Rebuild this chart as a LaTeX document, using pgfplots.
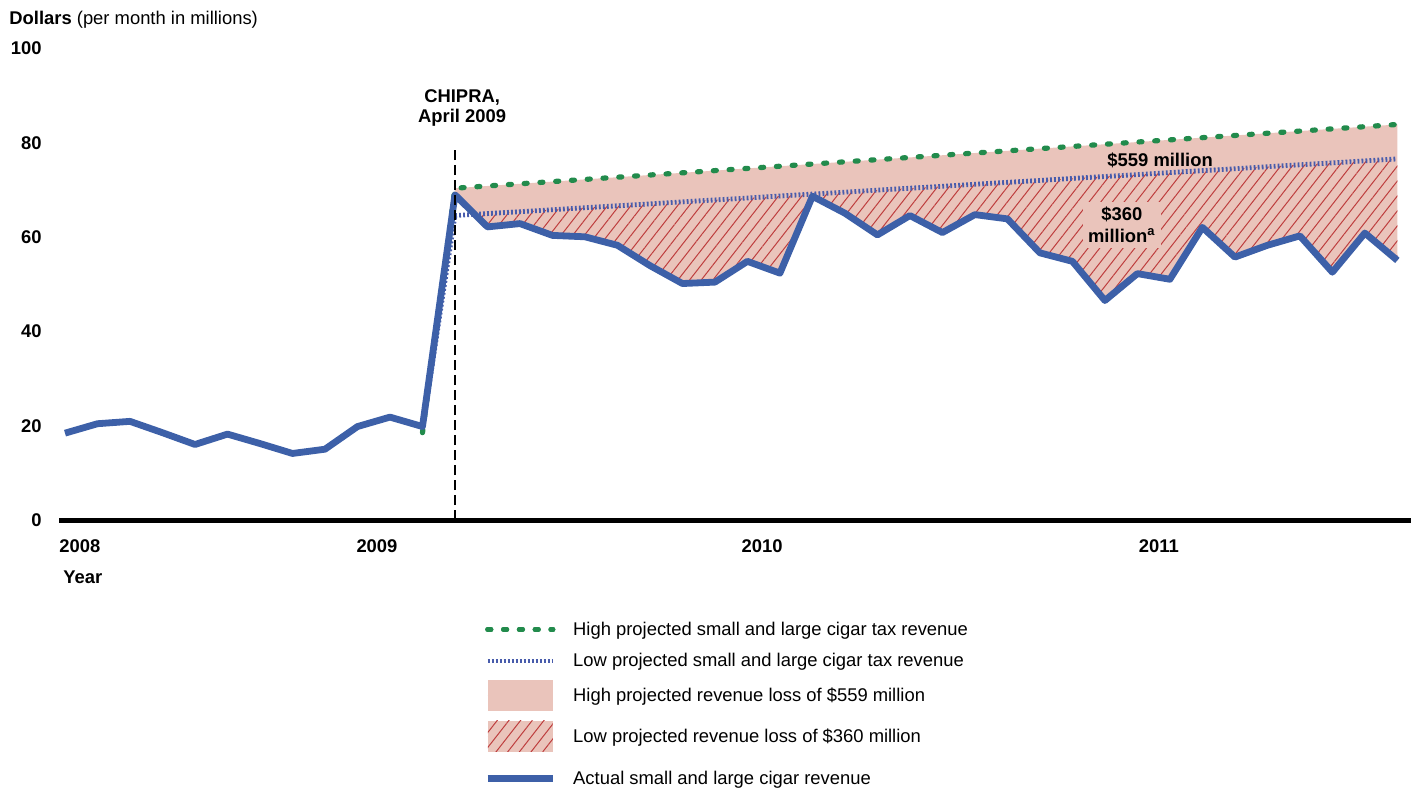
\documentclass[border=0pt]{standalone}
\usepackage{pgfplots}
\pgfplotsset{compat=1.18}
\usepackage{pgfplotstable}
\usepgfplotslibrary{fillbetween}
\usetikzlibrary{patterns.meta}
\usepackage{fontspec}
\setmainfont{Liberation Sans}
\definecolor{actual}{RGB}{61,96,168}
\definecolor{hig}{RGB}{34,139,76}
\definecolor{low}{RGB}{72,92,172}
\definecolor{lossfill}{RGB}{234,196,187}
\definecolor{hatch}{RGB}{190,62,62}
\newcommand{\fs}{\fontsize{9.2}{11}\selectfont}

\pgfplotstableread{
i v
0 18.4
1 20.4
2 20.9
3 18.5
4 16.0
5 18.2
6 16.2
7 14.1
8 15.0
9 19.8
10 21.8
11 19.8
12 68.9
13 62.1
14 62.8
15 60.3
16 60.0
17 58.2
18 53.9
19 50.1
20 50.4
21 54.8
22 52.3
23 68.6
24 65.0
25 60.4
26 64.5
27 60.9
28 64.7
29 63.8
30 56.6
31 54.8
32 46.5
33 52.2
34 51.0
35 62.0
36 55.7
37 58.2
38 60.2
39 52.5
40 60.8
41 55.0
}\actualtab
\pgfplotstableread{
i v
11 18.5
12 70.3
41 83.8
}\hightab
\pgfplotstableread{
i v
11 19.3
12 64.5
41 76.5
}\lowtab

\begin{document}
\fs
\begin{tikzpicture}[font=\fs]
\begin{axis}[
  at={(0pt,0pt)}, anchor=south west,
  width=676pt, height=236pt, scale only axis,
  xmin=-0.185, xmax=41.42, ymin=0, ymax=100,
  axis x line*=bottom, axis y line*=left,
  x axis line style={line width=2.5pt},
  y axis line style={draw=none},
  xtick={0.46,9.6,21.45,33.66}, xticklabels={2008,2009,2010,2011},
  ytick={0,20,40,60,80,100},
  major tick length=0pt,
  /pgf/number format/assume math mode=true,
  ticklabel style={font=\fs\bfseries},
  xticklabel style={anchor=base, yshift=-16.3pt, inner sep=0pt},
  yticklabel style={anchor=base east, xshift=-8.5pt, yshift=-3.3pt, inner sep=0pt},
  clip=false,
  legend cell align=left,
  legend style={at={(rel axis cs:0,0)}, anchor=north west, xshift=212.5pt, yshift=-47.5pt,
    draw=none, fill=none, inner sep=0pt, column sep=8.5pt, row sep=0pt,
    nodes={inner sep=0pt}, font=\fs},
  legend image code/.code={\path (0pt,0pt) -- (32.5pt,0pt); \draw[#1, overlay] (0pt,0pt) -- (32.5pt,0pt);},
]
\addlegendimage{hig, line width=2.6pt, dash pattern=on 1.5pt off 6.4pt, line cap=round}
\addlegendentry[text height=10pt, text depth=4pt]{High projected small and large cigar tax revenue}
\addlegendimage{low, line width=2.4pt, dash pattern=on 0.9pt off 1.1pt}
\addlegendentry[text height=11.75pt, text depth=5.75pt]{Low projected small and large cigar tax revenue}
\addlegendimage{legend image code/.code={\path (0pt,0pt) -- (32.5pt,0pt); \fill[lossfill, draw=none, overlay] (0pt,-7.75pt) rectangle (32.5pt,7.75pt);}}
\addlegendentry[text height=11.35pt, text depth=5.35pt]{High projected revenue loss of \$559 million}
\addlegendimage{legend image code/.code={\path (0pt,0pt) -- (32.5pt,0pt); \fill[lossfill, draw=none, overlay] (0pt,-7.75pt) rectangle (32.5pt,7.75pt); \path[overlay, draw=none, pattern={Lines[angle=52, distance=4.6pt, line width=0.5pt]}, pattern color=hatch] (0pt,-7.75pt) rectangle (32.5pt,7.75pt);}}
\addlegendentry[text height=15.15pt, text depth=9.15pt]{Low projected revenue loss of \$360 million}
\addlegendimage{actual, line width=3.4pt}
\addlegendentry[text height=12pt, text depth=6pt]{Actual small and large cigar revenue}

\addplot[name path=hi, draw=none, forget plot] table[x=i, y=v] {\hightab};
\addplot[name path=lo, draw=none, forget plot] table[x=i, y=v] {\lowtab};
\addplot[name path=act, draw=none, forget plot] table[x=i, y=v] {\actualtab};
\addplot[lossfill, forget plot] fill between[of=hi and act, soft clip={domain=12:41}];
\addplot[draw=none, pattern={Lines[angle=52, distance=4.6pt, line width=0.5pt]}, pattern color=hatch, forget plot] fill between[of=lo and act, soft clip={domain=12.61:41}];

\addplot[hig, line width=2.6pt, dash pattern=on 1.5pt off 6.4pt, line cap=round, forget plot] table[x=i, y=v] {\hightab};
\addplot[low, line width=2.4pt, dash pattern=on 0.9pt off 1.1pt, forget plot] table[x=i, y=v] {\lowtab};
\addplot[actual, line width=3.4pt, line join=round, forget plot] table[x=i, y=v] {\actualtab};

\draw[black, line width=1.2pt, dash pattern=on 5pt off 2.5pt] (axis cs:12,0) -- (axis cs:12,79.4);

\node[anchor=base, inner sep=0pt, font=\fs\bfseries] at (axis cs:12.22,88.5) {CHIPRA,};
\node[anchor=base, inner sep=0pt, font=\fs\bfseries] at (axis cs:12.22,84.3) {April 2009};
\node[anchor=base, inner sep=0pt, font=\fs\bfseries] at (axis cs:33.7,74.9) {\$559 million};
\node[anchor=center, fill=lossfill, inner sep=2.5pt, align=center, font=\fs\bfseries] at (axis cs:32.52,62.45) {\$360\\million\textsuperscript{a}};
\node[anchor=base west, inner sep=0pt] at ([xshift=-25pt, yshift=248pt]rel axis cs:0,0) {\textbf{Dollars} (per month in millions)};
\node[anchor=base west, inner sep=0pt, font=\fs\bfseries] at ([xshift=2pt, yshift=-31.5pt]rel axis cs:0,0) {Year};
\end{axis}
\pgfresetboundingbox
\useasboundingbox (-29.5pt,-134.5pt) rectangle (678.5pt,260pt);
\end{tikzpicture}
\end{document}
